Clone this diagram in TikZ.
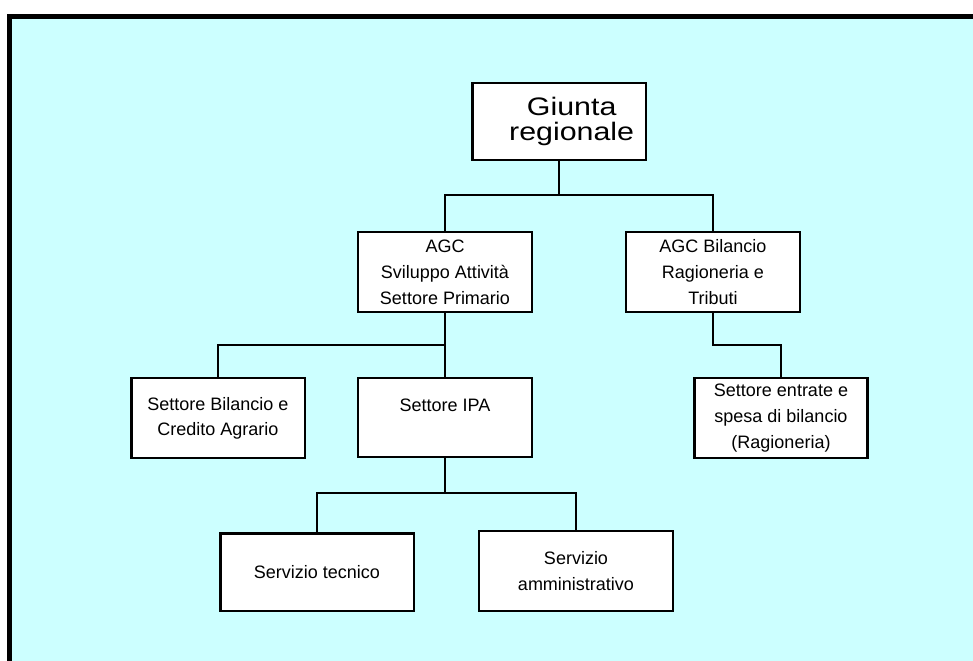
\documentclass[tikz,border=0pt]{standalone}
\usepackage{fontspec}
\setmainfont{Liberation Sans}
\newfontfamily\giuntafont[FakeStretch=1.2]{Liberation Sans}
\definecolor{sfondo}{RGB}{204,255,255}

\begin{document}
\begin{tikzpicture}[x=0.025cm,y=-0.025cm,
    ufficio/.style={draw,line width=1.6pt,fill=white,minimum width=4.35cm,
      minimum height=2cm,align=center,inner sep=0pt,
      font=\fontsize{12.8}{18.4}\selectfont},
    filo/.style={line width=1.4pt}]
  \useasboundingbox (0,0) rectangle (973,661);
  \fill (7,14) rectangle (973,661);
  \fill[sfondo] (12,19) rectangle (973,661);
  % livelli
  \node[ufficio,minimum width=4.33cm,minimum height=1.93cm,
    font=\giuntafont\fontsize{18}{18}\selectfont] (giunta) at (559,121.5)
    {\hspace*{18pt}Giunta\\\hspace*{18pt}regionale};
  \node[ufficio] (agc) at (445,272.3) {AGC\\Sviluppo Attività\\Settore Primario};
  \node[ufficio,minimum width=4.34cm] (agcbil) at (713,272.3) {AGC Bilancio\\Ragioneria e\\Tributi};
  \node[ufficio,minimum width=4.33cm] (bilancio) at (218,418.3) {Settore Bilancio e\\Credito Agrario};
  \node[ufficio,minimum width=4.34cm,minimum height=1.97cm] (ipa) at (445,417.7) {Settore IPA\\\mbox{}};
  \node[ufficio,minimum width=4.32cm,minimum height=1.99cm] (entrate) at (781,418) {Settore entrate e\\spesa di bilancio\\(Ragioneria)};
  \node[ufficio,minimum width=4.83cm,minimum height=1.94cm] (tecnico) at (317,572.2) {Servizio tecnico};
  \node[ufficio,minimum width=4.85cm] (amm) at (576,571) {Servizio\\amministrativo};
  % collegamenti
  \coordinate (bus1) at (559,195);
  \coordinate (bus2) at (445,345);
  \coordinate (bus3) at (713,345);
  \coordinate (bus4) at (445,493);
  \draw[filo] (giunta) -- (bus1) -| (agc);
  \draw[filo] (bus1) -| (agcbil);
  \draw[filo] (agc) -- (bus2) -| (bilancio);
  \draw[filo] (bus2) -- (ipa);
  \draw[filo] (agcbil) -- (bus3) -| (entrate);
  \draw[filo] (ipa) -- (bus4) -| (tecnico);
  \draw[filo] (bus4) -| (amm);
\end{tikzpicture}
\end{document}
